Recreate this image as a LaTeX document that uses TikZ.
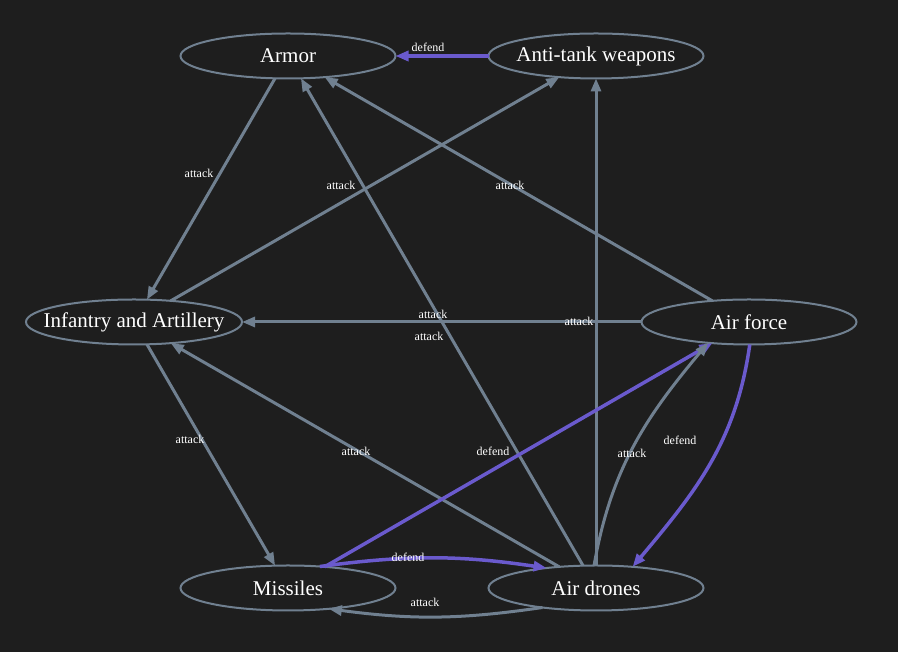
\documentclass[tikz,border=0pt]{standalone}
\usepackage{fontspec}
\setmainfont{Liberation Serif}
\usetikzlibrary{shapes.geometric,arrows.meta}
\definecolor{bgdark}{RGB}{30,30,30}
\definecolor{edgegray}{RGB}{112,128,144}
\definecolor{defendblue}{RGB}{106,90,205}
\begin{document}
\begin{tikzpicture}[x=1pt,y=1pt,
  unit/.style={ellipse,draw=edgegray,line width=2pt,minimum width=215pt,minimum height=45pt,inner xsep=-14pt,inner ysep=0pt,outer sep=0pt,text=white,font=\fontsize{21}{24}\selectfont},
  attackedge/.style={draw=edgegray,line width=3pt,-{Triangle[length=13pt,width=10pt]}},
  defendedge/.style={draw=defendblue,line width=3.5pt,-{Triangle[length=13pt,width=10pt]}},
  lbl/.style={text=white,font=\fontsize{12}{14}\selectfont,inner sep=0pt}]
\useasboundingbox (0,0) rectangle (898,652);
\fill[bgdark] (0,0) rectangle (898,652);

% Units
\node[unit] (armor) at (288,596) {Armor};
\node[unit] (antitank) at (596,596) {Anti-tank weapons};
\node[unit] (infantry) at (134,330) {Infantry and Artillery};
\node[unit] (airforce) at (749,330) {Air force};
\node[unit] (missiles) at (288,64) {Missiles};
\node[unit] (drones) at (596,64) {Air drones};

% Straight edges
\draw[defendedge] (antitank) -- (armor);
\draw[attackedge] (armor) -- (infantry);
\draw[attackedge] (infantry) -- (antitank);
\draw[attackedge] (airforce) -- (armor);
\draw[attackedge] (drones) -- (antitank);
\draw[attackedge] (drones) -- (armor);
\draw[attackedge] (airforce) -- (infantry);
\draw[attackedge] (infantry) -- (missiles);
\draw[attackedge] (drones) -- (infantry);
\draw[defendedge] (missiles) -- (airforce);

% Curved edges
\draw[attackedge] (drones.95) to[out=80,in=230] (airforce.207);
\draw[defendedge] (airforce.272) to[out=262,in=50] (drones.30);
\draw[defendedge] (missiles.34) to[bend left=8] (drones.158);
\draw[attackedge] (drones.200) to[bend left=8] (missiles.333);

% Edge labels
\node[lbl] (l-at-ar) at (428,605) {defend};
\node[lbl] (l-ar-in) at (199,479) {attack};
\node[lbl] (l-in-at) at (341,467) {attack};
\node[lbl] (l-af-ar) at (510,467) {attack};
\node[lbl] (l-dr-at) at (579,331) {attack};
\node[lbl] (l-dr-ar) at (429,316) {attack};
\node[lbl] (l-af-in) at (433,338) {attack};
\node[lbl] (l-in-mi) at (190,213) {attack};
\node[lbl] (l-dr-in) at (356,201) {attack};
\node[lbl] (l-mi-af) at (493,201) {defend};
\node[lbl] (l-dr-af) at (632,199) {attack};
\node[lbl] (l-af-dr) at (680,212) {defend};
\node[lbl] (l-mi-dr) at (408,95) {defend};
\node[lbl] (l-dr-mi) at (425,50) {attack};

\end{tikzpicture}
\end{document}
